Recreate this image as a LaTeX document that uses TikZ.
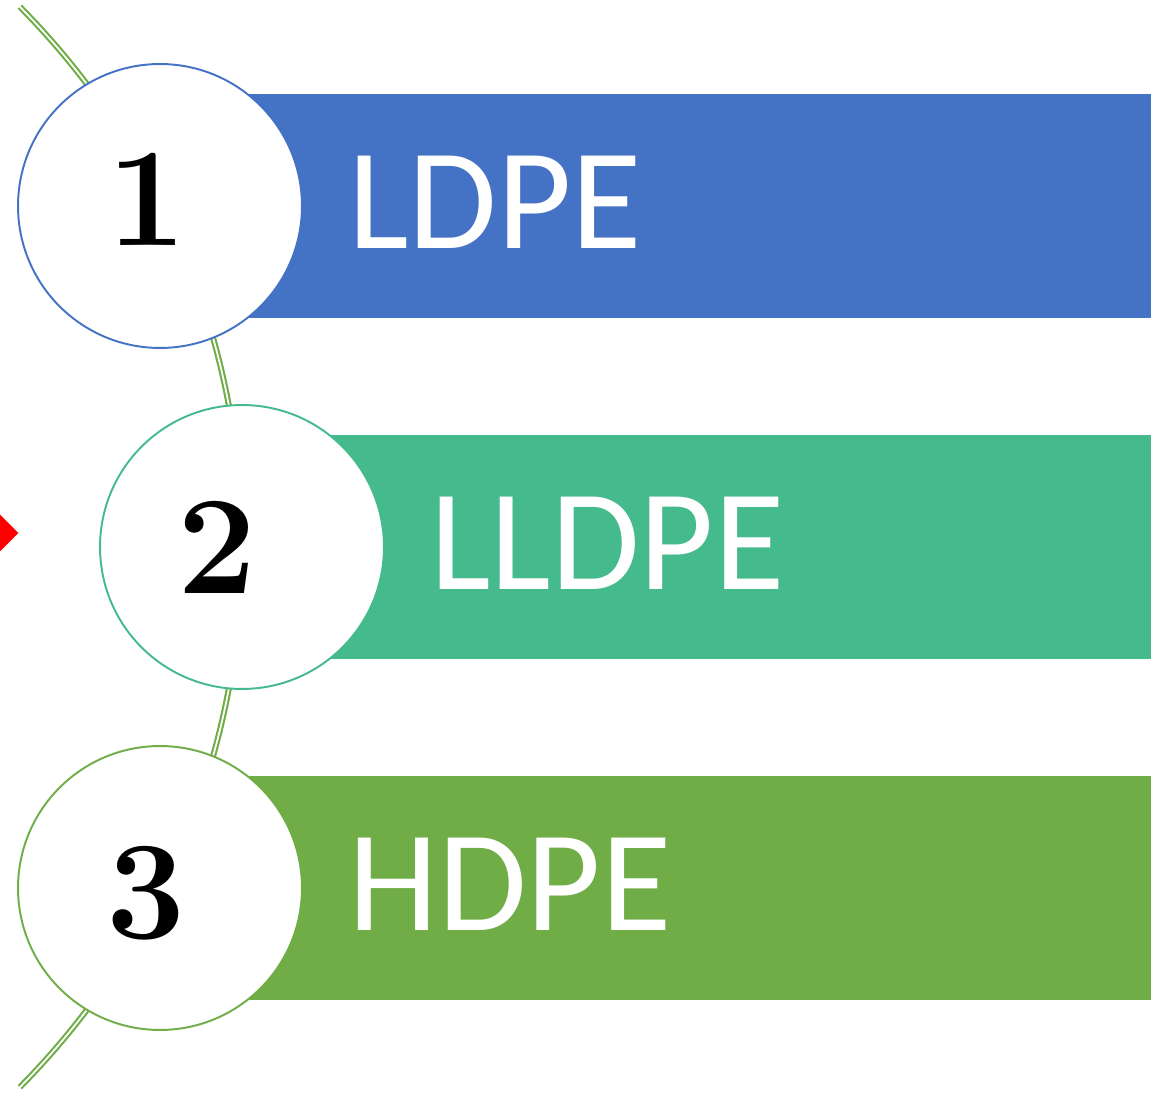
\documentclass[tikz,border=0pt]{standalone}
\usepackage{fontspec}
\usepackage{tikz}
\usetikzlibrary{shapes.geometric}
\newfontfamily\bandfont{Carlito}
\definecolor{ldpecolor}{HTML}{4472C4}
\definecolor{lldpecolor}{HTML}{44BA8D}
\definecolor{hdpecolor}{HTML}{70AD47}
\tikzset{ring/.style={circle,draw,fill=white,line width=1.1pt,minimum size=5.68cm,inner sep=0pt},number/.style={font=\fontsize{80}{80}\selectfont\bfseries,inner sep=0pt},band label/.style={anchor=west,text=white,font=\bandfont\fontsize{82}{82}\selectfont,inner sep=0pt},spine/.style={draw=hdpecolor,line width=1.2pt,double=white,double distance=1pt}}

\begin{document}
\begin{tikzpicture}[x=.02cm,y=.02cm]
 \useasboundingbox (0,0) rectangle (1164,1093);
 \begin{scope}
  \clip (0,0) rectangle (1164,1093);
  \node[diamond,fill=red,minimum size=.74cm,inner sep=0pt] (mark) at (0,560) {};
 \end{scope}

 % curved spine behind the rings
 \draw[spine] (-526,546) ++(44.7:768) arc[start angle=44.7,end angle=-44.7,radius=768];

 \fill[ldpecolor] (160,775) rectangle (1151,999);
 \fill[lldpecolor] (242,434) rectangle (1151,658);
 \fill[hdpecolor] (160,93) rectangle (1151,317);

 \node[ring,draw=ldpecolor] (c1) at (160,887) {};
 \node[ring,draw=lldpecolor] (c2) at (242,546) {};
 \node[ring,draw=hdpecolor] (c3) at (160,205) {};

 \foreach \ring/\num/\name/\dx/\dy in {c1/1/LDPE/-.26/.14,c2/2/LLDPE/-.5/0,c3/3/HDPE/-.28/-.1} {
  \node[number] (n\num) at ([xshift=\dx cm,yshift=\dy cm]\ring.center) {\num};
  \node[band label] (t\num) at ([xshift=3.76cm,yshift=.08cm]\ring.center) {\name};
 }
\end{tikzpicture}
\end{document}
